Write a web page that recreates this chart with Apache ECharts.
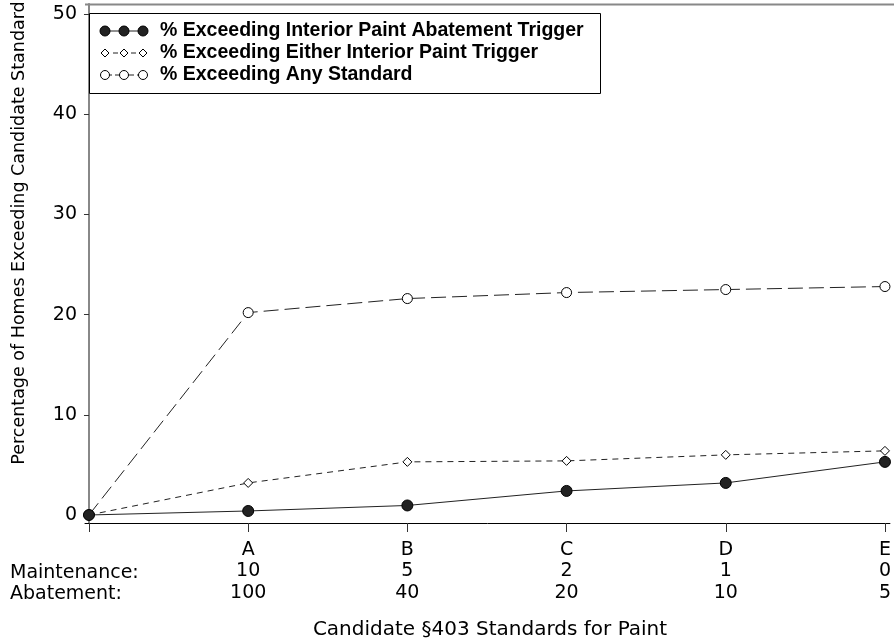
<!DOCTYPE html>
<html>
<head>
<meta charset="utf-8">
<script src="https://cdn.jsdelivr.net/npm/echarts@6/dist/echarts.min.js"></script>
<style>
html,body{margin:0;padding:0;background:#fff;}
#chart{width:894px;height:642px;}
</style>
</head>
<body>
<div id="chart"></div>
<script>
// ---- data ----
var xPositions = [0, 1, 2, 3, 4, 5];
var standardLetters = ['', 'A', 'B', 'C', 'D', 'E'];
var maintenanceLabels = ['', '10', '5', '2', '1', '0'];
var abatementLabels = ['', '100', '40', '20', '10', '5'];
var abatementTrigger = [0, 0.4, 0.95, 2.4, 3.2, 5.3];
var eitherTrigger = [0, 3.2, 5.3, 5.4, 6.0, 6.4];
var anyStandard = [0, 20.2, 21.6, 22.2, 22.5, 22.8];
var yTicks = [0, 10, 20, 30, 40, 50];
var seriesNames = [
  '% Exceeding Interior Paint Abatement Trigger',
  '% Exceeding Either Interior Paint Trigger',
  '% Exceeding Any Standard'
];

function pairs(vals){ return xPositions.map(function(x,i){ return [x, vals[i]]; }); }

var axisFont = 'DejaVu Sans';
var chart = echarts.init(document.getElementById('chart'), null, {renderer:'canvas'});

var legendGraphics = [];
var lx0 = 89, ly0 = 13, lw = 511, lh = 80;
legendGraphics.push({type:'rect', shape:{x:lx0+0.5, y:ly0+0.5, width:lw, height:lh},
  style:{fill:'#fff', stroke:'#000', lineWidth:1}, z:100});
var rows = [31, 53, 75];
var dashes = [null, [5,4], [8,3]];
rows.forEach(function(ry, k){
  legendGraphics.push({type:'line', shape:{x1:104, y1:ry, x2:143, y2:ry},
    style:{stroke:'#222', lineWidth:1, lineDash:dashes[k]}, z:101});
  [105, 124, 143].forEach(function(cx){
    if (k === 0) {
      legendGraphics.push({type:'circle', shape:{cx:cx, cy:ry, r:5}, style:{fill:'#222', stroke:'#000', lineWidth:1}, z:102});
    } else if (k === 1) {
      legendGraphics.push({type:'polygon', shape:{points:[[cx,ry-4],[cx+4,ry],[cx,ry+4],[cx-4,ry]]}, style:{fill:'#fff', stroke:'#000', lineWidth:1}, z:102});
    } else {
      legendGraphics.push({type:'circle', shape:{cx:cx, cy:ry, r:4.5}, style:{fill:'#fff', stroke:'#000', lineWidth:1}, z:102});
    }
  });
  legendGraphics.push({type:'text', x:160, y:ry, style:{text:seriesNames[k], fill:'#000',
    font:'bold 19.5px "Liberation Sans", Arial, sans-serif', textVerticalAlign:'middle', verticalAlign:'middle'}, z:103});
});

var option = {
  backgroundColor:'#fff',
  animation:false,
  grid:{left:85, right:0, top:4, bottom:119, containLabel:false},
  xAxis:{
    type:'value', min:-0.025, max:5.03125,
    axisLine:{show:true, onZero:false, lineStyle:{color:'#000', width:1}},
    axisTick:{show:true, length:9, inside:false, customValues:xPositions, lineStyle:{color:'#333'}},
    splitLine:{show:false},
    axisLabel:{
      show:true, customValues:xPositions, margin:16,
      color:'#000', fontFamily:axisFont, fontSize:19, lineHeight:21.5,
      formatter:function(v){ var i = Math.round(v); return standardLetters[i] + '\n' + maintenanceLabels[i] + '\n' + abatementLabels[i]; }
    }
  },
  yAxis:{
    type:'value', min:-0.8, max:51.0,
    axisLine:{show:true, lineStyle:{color:'#888', width:2}},
    axisTick:{show:true, length:5, customValues:yTicks, lineStyle:{color:'#333'}},
    splitLine:{show:false},
    axisLabel:{show:true, customValues:yTicks, margin:8, color:'#000', fontFamily:axisFont, fontSize:19}
  },
  graphic: [
    {type:'line', shape:{x1:85, y1:4.5, x2:894, y2:4.5}, style:{stroke:'#888', lineWidth:2}},
    {type:'text', x:10, y:573, style:{text:'Maintenance:', fill:'#000', font:'19px "DejaVu Sans"', verticalAlign:'middle', textVerticalAlign:'middle'}},
    {type:'text', x:10, y:594, style:{text:'Abatement:', fill:'#000', font:'19px "DejaVu Sans"', verticalAlign:'middle', textVerticalAlign:'middle'}},
    {type:'text', x:490, y:630, style:{text:'Candidate §403 Standards for Paint', fill:'#000', font:'20px "DejaVu Sans"', align:'center', textAlign:'center', verticalAlign:'middle', textVerticalAlign:'middle'}},
    {type:'text', x:19, y:233, rotation:Math.PI/2, style:{text:'Percentage of Homes Exceeding Candidate Standard', fill:'#000', font:'17.5px "DejaVu Sans"', align:'center', textAlign:'center', verticalAlign:'middle', textVerticalAlign:'middle'}}
  ].concat(legendGraphics),
  series:[
    {name:seriesNames[0], type:'line', data:pairs(abatementTrigger), symbol:'circle', symbolSize:11,
      lineStyle:{color:'#222', width:1, type:'solid'}, itemStyle:{color:'#222', borderColor:'#000', borderWidth:1}, z:5},
    {name:seriesNames[1], type:'line', data:pairs(eitherTrigger), symbol:'diamond', symbolSize:9,
      lineStyle:{color:'#222', width:1, type:[6,5]}, itemStyle:{color:'#fff', borderColor:'#000', borderWidth:1}, z:4},
    {name:seriesNames[2], type:'line', data:pairs(anyStandard), symbol:'circle', symbolSize:10,
      lineStyle:{color:'#222', width:1, type:[15,6]}, itemStyle:{color:'#fff', borderColor:'#000', borderWidth:1}, z:3}
  ]
};
chart.setOption(option);
</script>
</body>
</html>
